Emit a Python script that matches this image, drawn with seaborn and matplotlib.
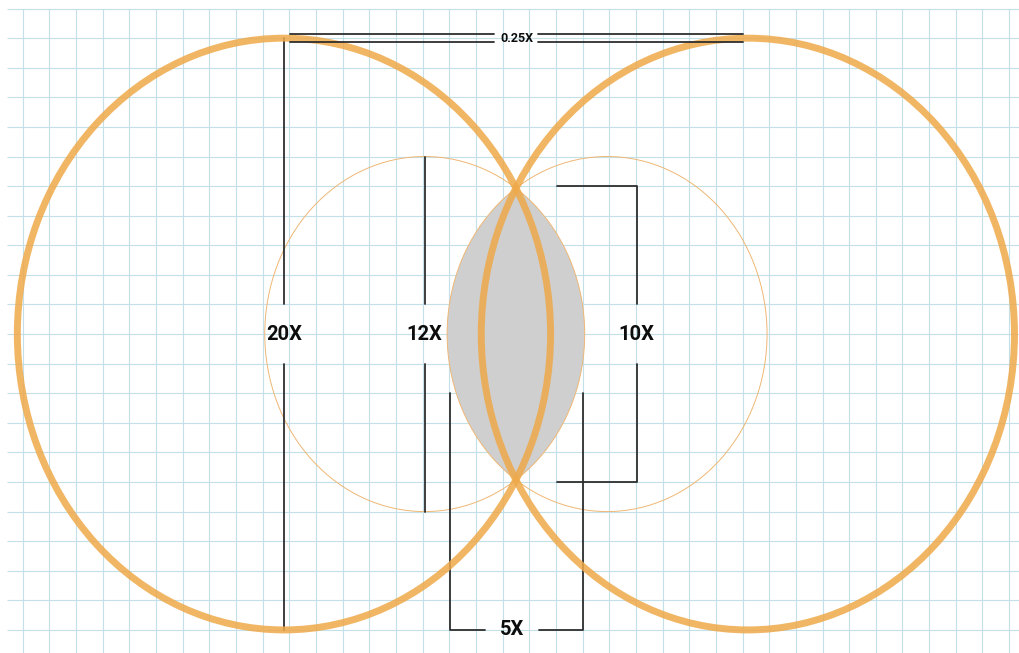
import numpy as np
import matplotlib.pyplot as plt
from matplotlib.patches import Circle
import seaborn as sns

sns.set_theme(style="white")
plt.rcParams['font.family'] = ['Roboto', 'DejaVu Sans']

# ------------------------------------------------------------------
# Datos (1 unidad de cuadricula = 1X)
# ------------------------------------------------------------------
grid_cols = np.arange(0, 38)          # lineas verticales de la cuadricula
grid_rows = np.arange(-10, 12)        # lineas horizontales

big_centers_x = [9.8, 27.2]           # circulos grandes (diametro 20X)
big_radius = 10.0
small_centers_x = [15.08, 21.92]      # circulos pequenos (diametro 12X)
small_radius = 6.0
center_y = 0.0

dim_labels = ["20X", "12X", "10X", "5X", "0.25X"]
bracket_10x_x = [20.03, 23.03]
bracket_10x_half = 5.0
bracket_5x_x = [16.03, 21.03]
bracket_5x_y = [-2.0, -10.0]
top_lines_y = [10.14, 9.86]
top_lines_x = [(10.03, 17.68), (19.34, 27.0)]

# ------------------------------------------------------------------
# Estilos
# ------------------------------------------------------------------
c_grid = '#c3e0ea'
c_thick = '#eea949'
c_thin = '#eeb775'
c_gray = '#cfcfcf'
c_dim = '#2e2e2e'

fig = plt.figure(figsize=(10.19, 6.53), dpi=100)
ax = fig.add_axes([0, 0, 1, 1])
ax.set_xlim(-0.851, 37.37)
ax.set_ylim(-10.78, 11.29)
ax.axis('off')

# Cuadricula
ax.vlines(grid_cols, -10.78, grid_rows.max(), color=c_grid, lw=0.8, zorder=0)
ax.hlines(grid_rows, -0.58, 37.37, color=c_grid, lw=0.8, zorder=0)

# Lente gris = interseccion de los circulos pequenos
clip = Circle((small_centers_x[0], center_y), small_radius, transform=ax.transData)
lens = Circle((small_centers_x[1], center_y), small_radius, facecolor=c_gray,
              edgecolor='none', zorder=1)
ax.add_patch(lens)
lens.set_clip_path(clip)

# Circulos pequenos (trazo fino)
for cx in small_centers_x:
    ax.add_patch(Circle((cx, center_y), small_radius, fill=False,
                        edgecolor=c_thin, lw=0.7, zorder=2))


def dim_line(xs, ys, z=3):
    sns.lineplot(x=xs, y=ys, sort=False, estimator=None, color=c_dim,
                 lw=1.3, ax=ax, zorder=z, legend=False)


gap = 1.0
# 20X
x20 = big_centers_x[0]
dim_line([x20, x20], [big_radius, gap])
dim_line([x20, x20], [-gap, -big_radius])
# 12X
x12 = small_centers_x[0]
dim_line([x12, x12], [small_radius, gap])
dim_line([x12, x12], [-gap, -small_radius])
# 10X
bx0, bx1 = bracket_10x_x
h = bracket_10x_half
dim_line([bx0, bx1, bx1], [h, h, gap])
dim_line([bx1, bx1, bx0], [-gap, -h, -h])
# 5X
lx0, lx1 = bracket_5x_x
ty, by = bracket_5x_y
mid5 = 18.35
dim_line([lx0, lx0, mid5 - 1.0], [ty, by, by])
dim_line([mid5 + 1.0, lx1, lx1], [by, by, ty])

# Circulos grandes (trazo grueso)
for cx in big_centers_x:
    ax.add_patch(Circle((cx, center_y), big_radius, fill=False,
                        edgecolor=c_thick, alpha=0.85, lw=5, zorder=4))

# 0.25X (lineas dobles superiores)
for yy in top_lines_y:
    for xa, xb in top_lines_x:
        dim_line([xa, xb], [yy, yy], z=5)

# Etiquetas
lab_kw = dict(fontsize=14.5, fontweight='bold', color='#0d0d0d',
              ha='center', va='center', zorder=6)
ax.text(x20, 0, dim_labels[0], **lab_kw)
ax.text(x12, 0, dim_labels[1], **lab_kw)
ax.text(bx1, 0, dim_labels[2], **lab_kw)
ax.text(mid5, by, dim_labels[3], **lab_kw)
ax.text(18.52, 10.0, dim_labels[4], fontsize=9, fontweight='bold',
        color='#0d0d0d', ha='center', va='center', zorder=6)

fig.savefig('out.png', dpi=100)
